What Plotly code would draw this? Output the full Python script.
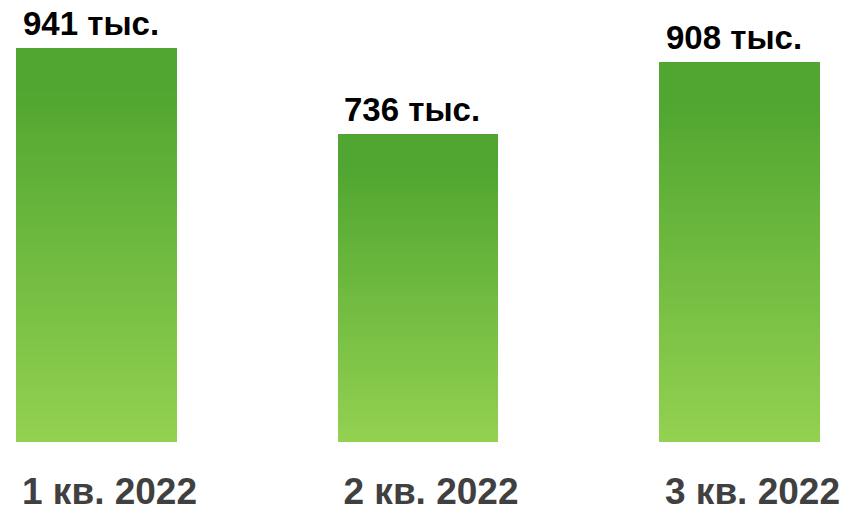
import plotly.graph_objects as go

categories = ["1 кв. 2022", "2 кв. 2022", "3 кв. 2022"]
values = [941, 736, 908]
value_labels = ["941 тыс.", "736 тыс.", "908 тыс."]

TOP = (0x50, 0xA6, 0x30)
BOTTOM = (0x93, 0xD1, 0x51)
N = 80
FONT = "Liberation Sans, Arial, sans-serif"

def mix(t):
    t = min(1.0, t / 0.9)
    r = [round(BOTTOM[i] + (TOP[i] - BOTTOM[i]) * t) for i in range(3)]
    return "rgb(%d,%d,%d)" % tuple(r)

xs = list(range(len(categories)))
fig = go.Figure()
for k in range(N):
    t = (k + 0.5) / N
    fig.add_trace(go.Bar(
        x=xs, y=[v / N for v in values], width=0.5,
        marker=dict(color=mix(t), line=dict(width=0)),
        hoverinfo="skip", showlegend=False,
    ))

for x, v, lab in zip(xs, values, value_labels):
    fig.add_annotation(
        x=x, y=v, text="<b>%s</b>" % lab, showarrow=False,
        xanchor="center", yanchor="bottom", xshift=-6, yshift=4,
        font=dict(family=FONT, size=33, color="#000000"),
    )

fig.update_layout(
    width=840, height=499,
    margin=dict(l=0, r=0, t=0, b=65),
    barmode="stack", bargap=0,
    plot_bgcolor="white", paper_bgcolor="white",
    xaxis=dict(
        range=[-0.2753, 2.3375], tickmode="array", tickvals=xs,
        ticktext=["<b>%s</b>" % c for c in categories],
        tickfont=dict(family=FONT, size=37, color="#404040"),
        showgrid=False, zeroline=False, showline=False,
        ticks="outside", ticklen=17, tickcolor="rgba(0,0,0,0)",
        ticklabelshift=13, automargin=False,
    ),
    yaxis=dict(range=[0, 1036.5], visible=False, showgrid=False, zeroline=False,
               automargin=False),
)
fig.write_html("out.html")
